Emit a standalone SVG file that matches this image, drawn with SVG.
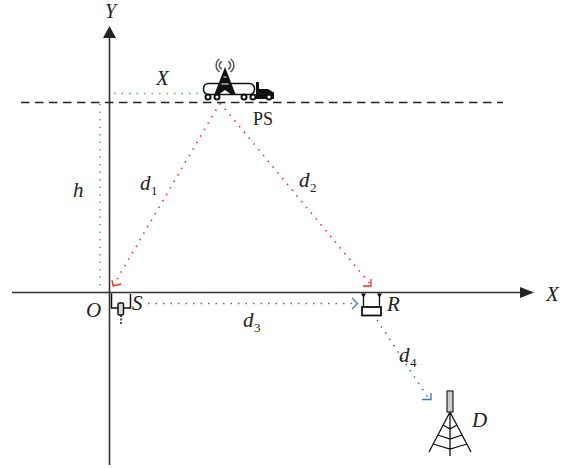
<svg xmlns="http://www.w3.org/2000/svg" width="573" height="468" viewBox="0 0 573 468">
<defs>
<style>
.lbl{font-family:"Liberation Serif",serif;font-size:21px;font-style:italic;fill:#222}
.sub{font-family:"Liberation Serif",serif;font-size:13px;fill:#222}
.ps{font-family:"Liberation Serif",serif;font-size:18px;fill:#222}
.axis{stroke:#333;stroke-width:1.6;fill:none}
.k{stroke:#111;fill:none}
.dot{fill:none;stroke-width:1.6;stroke-dasharray:1.5 6}
.red{stroke:#e8302a}.blue{stroke:#2f78c4}.green{stroke:#4cc46a}
.head{fill:none;stroke-width:1.3}
.w{fill:#fff;stroke:#111;stroke-width:2}
</style>
</defs>
<rect width="573" height="468" fill="#fff"/>
<g id="connectors">
<path class="axis" d="M12 292.500H522"/><path d="M534 292.500L520 287V298Z" fill="#222"/>
<path class="axis" d="M109.500 465V36"/><path d="M109.500 26L103 38H116Z" fill="#222"/>
<path d="M21 102.500H503" stroke="#222" stroke-width="1.600" stroke-dasharray="8.500 5.500" fill="none"/>
<path class="dot green" d="M114 93.500H205"/>
<path class="dot green" d="M100 104V290"/>
<path class="dot red" d="M220 103L113 286"/>
<path class="dot red" d="M220 103L371 285"/>
<path class="head red" d="M112 280L113 286L121 284"/>
<path class="head red" d="M371 279V286H363"/>
<path class="dot blue" d="M148 303.500H356"/>
<path class="head blue" d="M352 298L357.500 303.500L352 309"/>
<path class="dot blue" d="M377 320L429 399"/>
<path class="head blue" d="M431 393V399.500H422"/>
</g>
<g id="node-ps">
<rect x="203.500" y="83.500" width="51" height="11" rx="5" fill="#fff" stroke="#111" stroke-width="1.500"/>
<path d="M256 82H259V89H268L274 92.500V99H256Z" fill="#111"/>
<circle class="w" cx="208" cy="97" r="2.500"/><circle class="w" cx="217" cy="97" r="2.500"/>
<circle class="w" cx="244" cy="97" r="2.500"/><circle class="w" cx="253" cy="97" r="2.500"/><circle class="w" cx="269" cy="97" r="2.500"/>
<path d="M225 67L214.500 94H219.500L225 90L230.500 94H235.500Z" fill="#111"/>
<path d="M223.500 77H226.500M221.500 84H228.500" stroke="#fff" stroke-width="1"/>
<path d="M222 61.500A4 4 0 0 0 222 69M228 61.500A4 4 0 0 1 228 69M219.500 59A8 8 0 0 0 219.500 72M230.500 59A8 8 0 0 1 230.500 72" fill="none" stroke="#555" stroke-width="1.500"/>
<text class="ps" x="253" y="125">PS</text>
</g>
<g id="node-s">
<path class="k" stroke-width="1.500" d="M111.500 293.500V308H118M124 308H130.500V294"/>
<rect x="118" y="303" width="5.500" height="12" rx="1.500" fill="#ddd" stroke="#111" stroke-width="1.500"/>
<path class="k" stroke-width="1.500" stroke-dasharray="2 1.500" d="M121 315V324"/>
<text class="lbl" x="132" y="310">S</text>
</g>
<g id="node-r">
<path class="k" stroke-width="1.300" d="M363.500 296V307M379.500 296V307"/>
<path d="M361 293.500H366L363.500 298ZM377 293.500H382L379.500 298Z" fill="#111"/>
<rect x="362" y="307" width="19" height="8.500" fill="#fff" stroke="#111" stroke-width="1.800"/>
<text class="lbl" x="387" y="311">R</text>
</g>
<g id="node-d">
<rect x="447" y="391" width="6" height="21" fill="#ccc" stroke="#222" stroke-width="1.200"/>
<path class="k" stroke-width="1.300" d="M450 412L429 452M450 412L471 452M450 412V456M443 425L450 429L457 425M438 435L450 439L462 435M433 444L450 449L467 444"/>
<text class="lbl" x="472" y="427">D</text>
</g>
<g id="labels">
<text class="lbl" x="105" y="18" style="font-size:20px">Y</text>
<text class="lbl" x="156" y="85">X</text>
<text class="lbl" x="546" y="301">X</text>
<text class="lbl" x="73" y="197">h</text>
<text class="lbl" x="86" y="317">O</text>
<text class="lbl" x="140" y="190">d</text><text class="sub" x="151" y="195">1</text>
<text class="lbl" x="299" y="187">d</text><text class="sub" x="310" y="192">2</text>
<text class="lbl" x="243" y="327">d</text><text class="sub" x="254" y="332">3</text>
<text class="lbl" x="399" y="362">d</text><text class="sub" x="410" y="367">4</text>
</g>
</svg>
